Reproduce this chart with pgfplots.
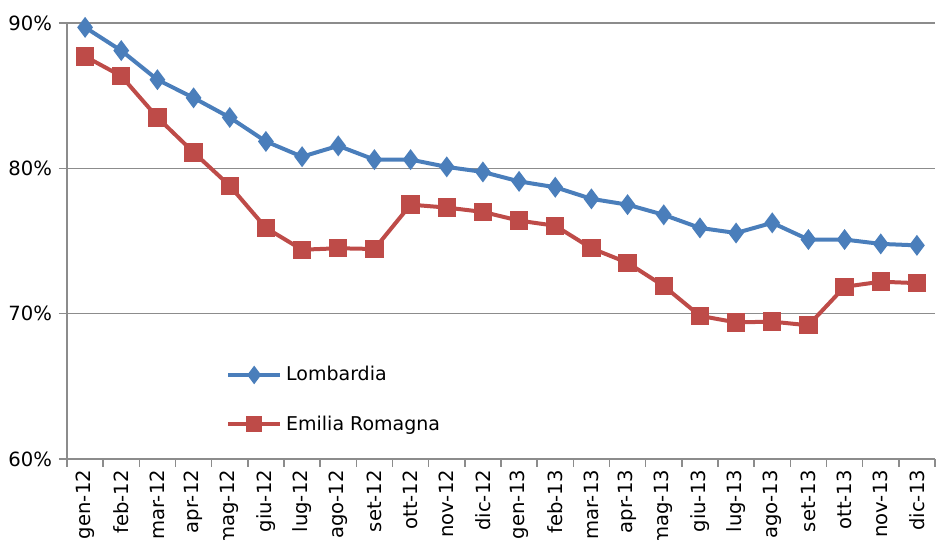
\documentclass[border=0pt]{standalone}
\usepackage{pgfplots}
\pgfplotsset{compat=1.18}
\usepackage{fontspec}
\setmainfont{DejaVu Sans}
\definecolor{lomb}{HTML}{4A7EBB}
\definecolor{emil}{HTML}{BE4B48}
\definecolor{gridgray}{HTML}{8C8C8C}
\begin{document}
\begin{tikzpicture}
\begin{axis}[
  scale only axis,
  width=434pt, height=218pt,
  xmin=-0.5, xmax=23.5,
  ymin=60, ymax=90,
  axis lines*=left,
  axis line style={gridgray, line width=0.8pt},
  xtick={0,...,23},
  xticklabels={gen-12,feb-12,mar-12,apr-12,mag-12,giu-12,lug-12,ago-12,set-12,ott-12,nov-12,dic-12,
               gen-13,feb-13,mar-13,apr-13,mag-13,giu-13,lug-13,ago-13,set-13,ott-13,nov-13,dic-13},
  x tick label style={rotate=90, anchor=east, font=\fontsize{9.8}{11}\selectfont, xshift=0pt, yshift=0pt},
  xticklabel shift=-2pt,
  major x tick style={draw=none},
  minor xtick={-0.5,0.5,...,23.5},
  minor x tick style={gridgray, line width=0.8pt},
  minor tick length=4pt,
  ytick={60,70,80,90},
  yticklabel={\pgfmathprintnumber{\tick}\%},
  y tick label style={font=\fontsize{9.8}{11}\selectfont},
  /pgf/number format/assume math mode=true,
  ytick style={gridgray, line width=0.8pt},
  major tick length=4pt,
  tick align=outside,
  ymajorgrids,
  grid style={gridgray, line width=0.6pt},
  legend style={at={(0.176,0.232)}, anchor=north west, draw=none, fill=none,
    font=\fontsize{9.5}{11}\selectfont, row sep=12pt},
  legend cell align=left,
  legend image code/.code={
    \draw[#1, mark=none] (0pt,0pt) -- (26pt,0pt);
    \draw[#1, only marks, mark size=3pt] plot coordinates {(13pt,0pt)};
  },
]
\addplot[lomb, line width=2pt, mark=diamond*, mark size=3.6pt] coordinates {
(0,89.7) (1,88.1) (2,86.1) (3,84.85) (4,83.5) (5,81.85) (6,80.8) (7,81.55)
(8,80.6) (9,80.6) (10,80.1) (11,79.75) (12,79.1) (13,78.7) (14,77.9) (15,77.5)
(16,76.8) (17,75.9) (18,75.55) (19,76.25) (20,75.1) (21,75.1) (22,74.8) (23,74.7)};
\addlegendentry{Lombardia}
\addplot[emil, line width=2pt, mark=square*, mark size=3.6pt] coordinates {
(0,87.7) (1,86.35) (2,83.5) (3,81.1) (4,78.8) (5,75.9) (6,74.4) (7,74.5)
(8,74.45) (9,77.5) (10,77.3) (11,77.0) (12,76.4) (13,76.05) (14,74.5) (15,73.5)
(16,71.9) (17,69.85) (18,69.4) (19,69.45) (20,69.2) (21,71.85) (22,72.2) (23,72.1)};
\addlegendentry{Emilia Romagna}
\end{axis}
\pgfresetboundingbox
\path[use as bounding box] (current axis.south west) ++(-33.5pt,-40.5pt) rectangle ([shift={(0.5pt,11.5pt)}]current axis.north east);
\end{tikzpicture}
\end{document}
